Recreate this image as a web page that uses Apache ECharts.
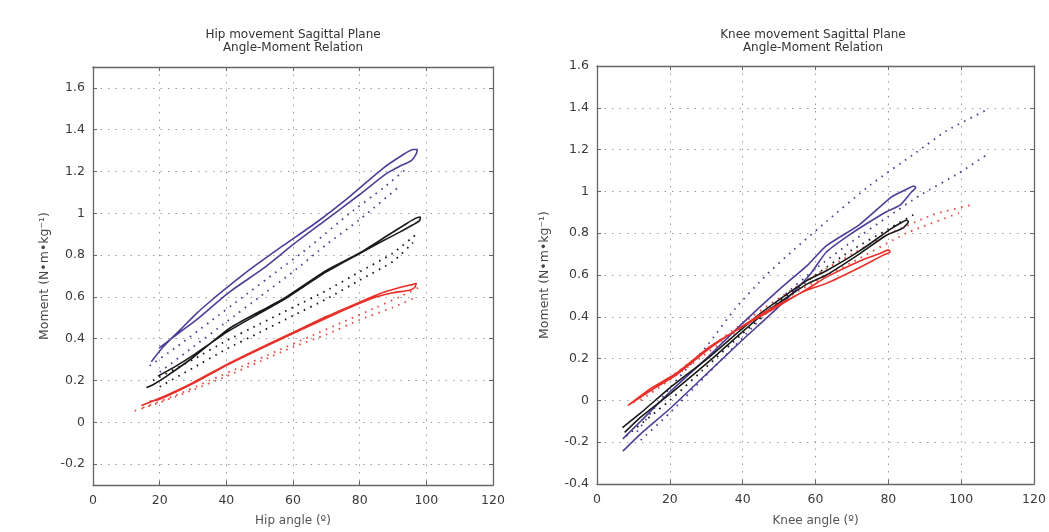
<!DOCTYPE html>
<html>
<head>
<meta charset="utf-8">
<script src="https://cdn.jsdelivr.net/npm/echarts@6/dist/echarts.min.js"></script>
<style>
html,body{margin:0;padding:0;background:#fff;}
#chart{width:1049px;height:532px;}
</style>
</head>
<body>
<div id="chart"></div>
<script>
// ---------- DATA ----------
const titles = ['Hip movement Sagittal Plane\nAngle-Moment Relation', 'Knee movement Sagittal Plane\nAngle-Moment Relation'];
const xNames = ['Hip angle (º)', 'Knee angle (º)'];
const yName = 'Moment (N•m•kg⁻¹)';
const xTicks = [0, 20, 40, 60, 80, 100, 120];
const hipYTicks = [-0.2, 0, 0.2, 0.4, 0.6, 0.8, 1, 1.2, 1.4, 1.6];
const kneeYTicks = [-0.4, -0.2, 0, 0.2, 0.4, 0.6, 0.8, 1, 1.2, 1.4, 1.6];

// Hip (left panel)
const hipBlueSolid = [[17.5,0.29],[21,0.36],[26,0.44],[31,0.52],[36,0.59],[41,0.655],[47,0.73],[57,0.845],[67,0.956],[77,1.08],[87,1.215],[93,1.28],[96,1.305],[97.3,1.305],[97,1.285],[95.5,1.252],[92,1.225],[88,1.19],[80,1.09],[70,0.97],[60,0.85],[51,0.735],[41,0.624],[31,0.49],[26,0.43],[19.8,0.355]];
const hipBlueDot1 = [[17,0.27],[25,0.36],[35,0.48],[45,0.60],[55,0.72],[65,0.84],[77,1.0],[87,1.12],[94.5,1.22]];
const hipBlueDot2 = [[20,0.24],[30,0.36],[40,0.48],[50,0.60],[60,0.72],[70,0.85],[80,0.97],[92,1.13]];
const hipBlackSolid = [[16,0.166],[18,0.18],[22,0.22],[30,0.31],[41,0.45],[50,0.53],[57,0.59],[70,0.727],[80,0.81],[88,0.89],[94,0.95],[97,0.978],[98.2,0.982],[98,0.965],[96,0.945],[92,0.91],[86,0.86],[80,0.808],[70,0.72],[57,0.585],[41,0.44],[30,0.32],[25,0.27],[19.5,0.221]];
const hipBlackDot1 = [[18,0.2],[30,0.3],[40,0.39],[50,0.47],[60,0.55],[70,0.63],[80,0.72],[90,0.81],[97,0.9]];
const hipBlackDot2 = [[20,0.17],[30,0.26],[40,0.35],[50,0.43],[60,0.51],[70,0.59],[80,0.68],[90,0.77],[96,0.86]];
const hipRedSolid = [[14.5,0.08],[20,0.115],[30,0.19],[41,0.284],[50,0.355],[60,0.43],[70,0.506],[80,0.575],[86,0.615],[92,0.645],[96,0.66],[97,0.665],[96.5,0.645],[95,0.632],[90,0.62],[84,0.595],[75,0.535],[60,0.425],[41,0.28],[30,0.185],[20,0.11],[17,0.1]];
const hipRedDot1 = [[12.5,0.055],[20,0.095],[30,0.155],[40,0.22],[50,0.29],[60,0.36],[70,0.42],[80,0.49],[90,0.55],[97,0.6]];
const hipRedDot2 = [[15,0.07],[25,0.13],[35,0.2],[45,0.27],[55,0.34],[65,0.41],[75,0.48],[85,0.55],[92,0.6],[99,0.655]];

// Knee (right panel)
const kneeBlueSolid = [[7.1,-0.184],[12,-0.1],[20,0.04],[30,0.2],[40,0.37],[50,0.53],[58,0.65],[63,0.74],[72,0.84],[81,0.975],[85,1.01],[87,1.026],[87.5,1.018],[86.4,0.998],[83.2,0.934],[79.5,0.903],[75,0.856],[70,0.80],[63,0.71],[58.4,0.6],[50,0.45],[40,0.29],[30,0.125],[20,-0.04],[12,-0.16],[7.1,-0.243]];
const kneeBlueDot1 = [[11,-0.15],[20,0.06],[30,0.257],[38,0.44],[46.5,0.6],[54,0.72],[63,0.856],[75,1.03],[87.7,1.187],[96,1.29],[107,1.39]];
const kneeBlueDot2 = [[12,-0.19],[20,-0.06],[30,0.12],[40,0.3],[50,0.48],[60,0.63],[70,0.76],[80,0.88],[88.6,0.98],[99.6,1.09],[107.4,1.18]];
const kneeBlackSolid = [[7,-0.13],[12,-0.06],[20,0.06],[31,0.21],[44.7,0.414],[57.5,0.572],[63,0.62],[72,0.714],[81,0.824],[84,0.855],[85,0.863],[85.5,0.855],[84,0.824],[79.5,0.79],[72,0.7],[63,0.6],[57.5,0.555],[44.7,0.4],[31,0.19],[20,0.03],[12,-0.08],[7.6,-0.153]];
const kneeBlackDot1 = [[8,-0.17],[20,0.0],[30,0.16],[40,0.32],[50,0.47],[60,0.6],[70,0.72],[80,0.82],[88,0.9]];
const kneeRedSolid = [[8.5,-0.024],[15,0.06],[21.8,0.13],[31,0.257],[42.9,0.383],[49.3,0.446],[58.4,0.54],[63,0.59],[72.2,0.667],[78,0.705],[80,0.72],[80.5,0.71],[78.6,0.695],[72,0.635],[63,0.56],[58,0.53],[50,0.46],[43,0.39],[31,0.25],[22,0.125],[15,0.05],[8.5,-0.024]];
const kneeRedDot1 = [[10,-0.01],[20,0.11],[30,0.24],[40,0.37],[50,0.49],[60,0.6],[70,0.7],[79.5,0.79],[92,0.887],[102.4,0.934]];
const kneeRedDot2 = [[12,0.0],[25,0.16],[40,0.35],[55,0.52],[70,0.66],[85,0.8],[100,0.9]];

// ---------- STYLE ----------
const BLUE = '#4b3f97', BLACK = '#1a1a1a', RED = '#e8302a', RED_DOT = '#ea4a40';
const FONT = 'DejaVu Sans, Verdana, sans-serif';
const axisColor = '#666';
const gridLine = { show: true, lineStyle: { color: '#9a9a9a', width: 1, type: [1.5, 6] } };

function solid(data, color, xi, yi) {
  return { type: 'line', data, xAxisIndex: xi, yAxisIndex: yi, symbol: 'none', smooth: 0.2,
    lineStyle: { color, width: 1.6 }, silent: true, z: 3 };
}
function dotted(data, color, xi, yi) {
  return { type: 'line', data, xAxisIndex: xi, yAxisIndex: yi, symbol: 'none', smooth: 0.2,
    lineStyle: { color, width: 1.8, type: [1.6, 5.5] }, silent: true, z: 2 };
}

function xAx(gi, pos, showLabel, name, gap) {
  return {
    type: 'value', gridIndex: gi, position: pos, min: 0, max: 120, interval: 20,
    axisLine: { show: true, onZero: false, lineStyle: { color: axisColor, width: 1.3 } },
    axisTick: { show: true, inside: true, length: 4, lineStyle: { color: axisColor } },
    axisLabel: { show: showLabel, color: '#3a3a3a', fontSize: 12.5, fontFamily: FONT, margin: 9 },
    splitLine: showLabel ? gridLine : { show: false },
    name: name || '', nameLocation: 'middle', nameGap: gap || 30,
    nameTextStyle: { color: '#555', fontSize: 12, fontFamily: FONT }
  };
}
function yAx(gi, pos, showLabel, min, max, ticks, name, gap) {
  return {
    type: 'value', gridIndex: gi, position: pos, min, max,
    axisLine: { show: true, onZero: false, lineStyle: { color: axisColor, width: 1.3 } },
    axisTick: { show: true, inside: true, length: 4, lineStyle: { color: axisColor }, customValues: ticks },
    axisLabel: { show: showLabel, color: '#3a3a3a', fontSize: 12.5, fontFamily: FONT, margin: 8, customValues: ticks },
    splitLine: showLabel ? gridLine : { show: false },
    name: name || '', nameLocation: 'middle', nameGap: gap || 40,
    nameTextStyle: { color: '#444', fontSize: 12.5, fontFamily: FONT }
  };
}

const chart = echarts.init(document.getElementById('chart'), null, { renderer: 'canvas' });
chart.setOption({
  backgroundColor: '#fff',
  animation: false,
  title: [
    { text: titles[0], left: 288, top: 23, textAlign: 'center',
      textStyle: { fontSize: 12, fontWeight: 'normal', color: '#333', fontFamily: FONT, lineHeight: 13 } },
    { text: titles[1], left: 808, top: 23, textAlign: 'center',
      textStyle: { fontSize: 12, fontWeight: 'normal', color: '#333', fontFamily: FONT, lineHeight: 13 } }
  ],
  grid: [
    { left: 93, top: 67, width: 400, height: 421 },
    { left: 597, top: 66, width: 437, height: 423 }
  ],
  xAxis: [
    xAx(0, 'bottom', true, xNames[0], 30),
    xAx(0, 'top', false),
    xAx(1, 'bottom', true, xNames[1], 31),
    xAx(1, 'top', false)
  ],
  yAxis: [
    yAx(0, 'left', true, -0.3, 1.7, hipYTicks, yName, 42),
    yAx(0, 'right', false, -0.3, 1.7, hipYTicks),
    yAx(1, 'left', true, -0.4, 1.6, kneeYTicks, yName, 46),
    yAx(1, 'right', false, -0.4, 1.6, kneeYTicks)
  ],
  series: [
    dotted(hipBlueDot1, BLUE, 0, 0), dotted(hipBlueDot2, BLUE, 0, 0),
    dotted(hipBlackDot1, BLACK, 0, 0), dotted(hipBlackDot2, BLACK, 0, 0),
    dotted(hipRedDot1, RED_DOT, 0, 0), dotted(hipRedDot2, RED_DOT, 0, 0),
    solid(hipBlueSolid, BLUE, 0, 0), solid(hipBlackSolid, BLACK, 0, 0), solid(hipRedSolid, RED, 0, 0),
    dotted(kneeBlueDot1, BLUE, 2, 2), dotted(kneeBlueDot2, BLUE, 2, 2),
    dotted(kneeBlackDot1, BLACK, 2, 2),
    dotted(kneeRedDot1, RED_DOT, 2, 2), dotted(kneeRedDot2, RED_DOT, 2, 2),
    solid(kneeBlueSolid, BLUE, 2, 2), solid(kneeBlackSolid, BLACK, 2, 2), solid(kneeRedSolid, RED, 2, 2)
  ]
});
</script>
</body>
</html>
